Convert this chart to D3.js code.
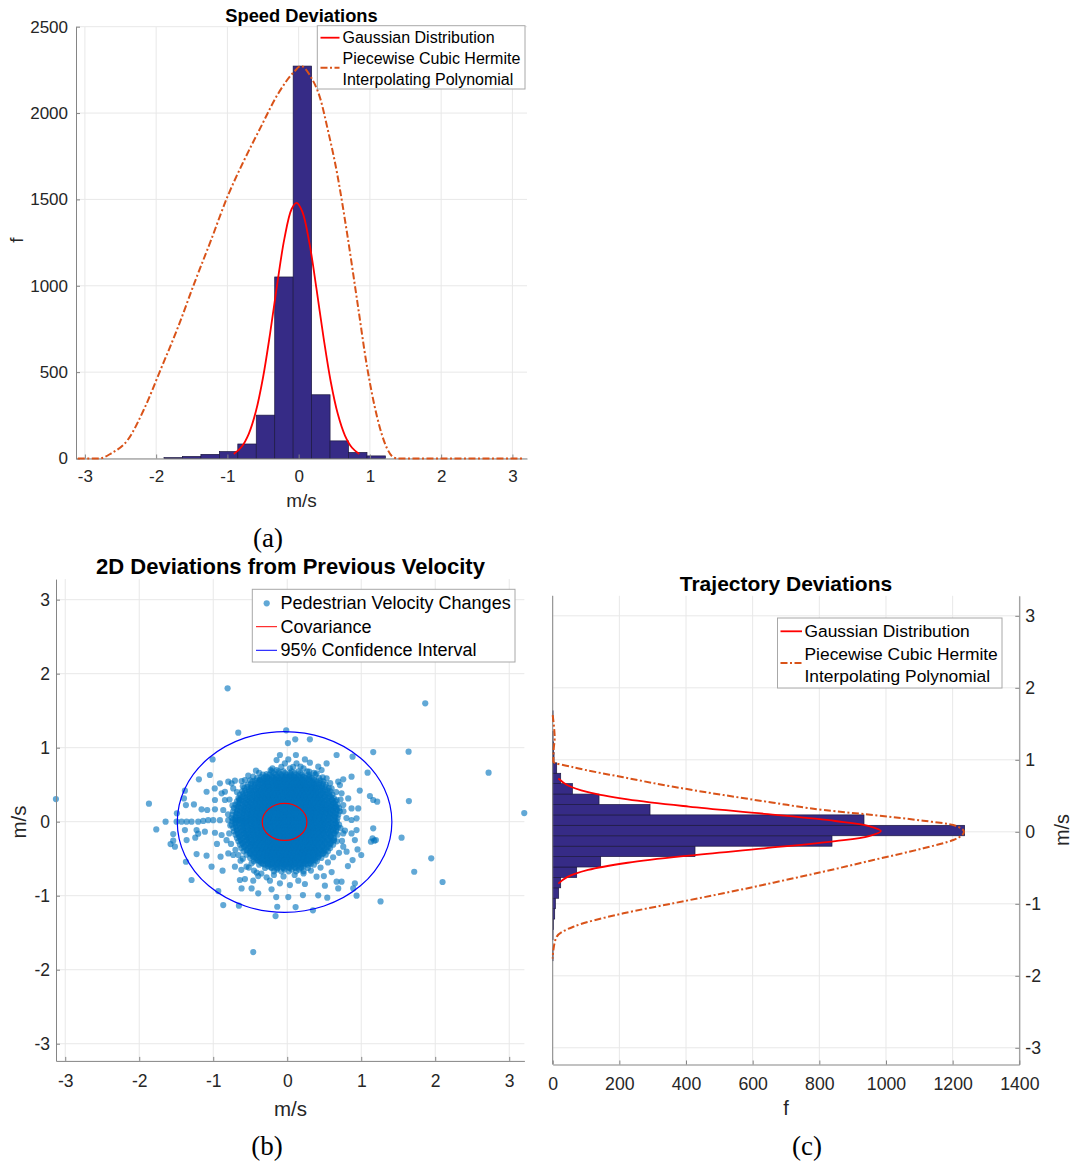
<!DOCTYPE html>
<html>
<head>
<meta charset="utf-8">
<script src="https://cdn.jsdelivr.net/npm/d3@7"></script>
<style>
  body { margin: 0; background: #fff; }
  svg { display: block; }
</style>
</head>
<body>
<svg id="fig" width="1072" height="1162"></svg>
<script>
// ---------------- data: speed deviation histogram ----------------
const speedEdges = [-1.890, -1.631, -1.372, -1.113, -0.854, -0.595, -0.336, -0.077, 0.182, 0.441, 0.700, 0.959, 1.218];
const speedCounts = [5, 12, 24, 40, 84, 251, 1051, 2272, 369, 102, 35, 15];
const speedGaussX = [-0.91, -0.8, -0.7, -0.6, -0.5, -0.4, -0.3, -0.2, -0.1, -0.03, 0.05, 0.15, 0.25, 0.35, 0.45, 0.55, 0.65, 0.75, 0.85];
const speedGaussF = [26, 68, 143, 273, 469, 726, 1013, 1273, 1443, 1480, 1431, 1250, 984, 698, 446, 257, 133, 62, 26];
const speedPchipX = [-3.10, -2.80, -2.63, -2.40, -2.165, -1.93, -1.70, -1.465, -1.23, -1.0, -0.765, -0.53, -0.30, -0.066, 0.03, 0.17, 0.31, 0.40, 0.54, 0.68, 0.82, 0.96, 1.10, 1.24, 1.33, 1.40, 3.15];
const speedPchipF = [0, 0, 30, 107, 290, 522, 753, 1014, 1264, 1515, 1727, 1920, 2104, 2238, 2272, 2210, 2075, 1920, 1650, 1303, 917, 531, 242, 59, 7, 0, 0];
const speedXTicks = [-3, -2, -1, 0, 1, 2, 3];
const speedYTicks = [0, 500, 1000, 1500, 2000, 2500];

// ---------------- data: trajectory deviation histogram (horizontal) ----------------
const trajEdges = [-1.791, -1.646, -1.501, -1.357, -1.212, -1.068, -0.923, -0.778, -0.634, -0.489, -0.344, -0.200, -0.055,
                   0.090, 0.235, 0.379, 0.524, 0.669, 0.813, 0.958, 1.103, 1.247, 1.392, 1.537, 1.681, 1.826];
const trajCounts = [1, 0, 1, 2, 6, 8, 18, 24, 72, 144, 427, 838, 1236, 934, 292, 139, 59, 24, 12, 4, 3, 1, 0, 1, 0];
const trajGaussY = [0.74, 0.65, 0.55, 0.45, 0.35, 0.25, 0.15, 0.08, 0.01, -0.06, -0.13, -0.23, -0.33, -0.43, -0.53, -0.63, -0.72];
const trajGaussF = [17, 43, 106, 225, 408, 635, 848, 949, 985, 949, 848, 635, 408, 225, 106, 43, 17];
const trajPchipY = [1.62, 1.45, 1.30, 1.15, 0.974, 0.896, 0.757, 0.626, 0.511, 0.404, 0.303, 0.233, 0.154, 0.094, 0.0,
                    -0.114, -0.229, -0.392, -0.554, -0.707, -0.854, -0.993, -1.132, -1.318, -1.457, -1.642, -1.76];
const trajPchipF = [0, 4, 6, 3, 2, 62, 212, 362, 512, 662, 812, 962, 1112, 1202, 1234,
                    1202, 1112, 962, 812, 662, 512, 362, 212, 62, 12, 2, 0];
const trajFTicks = [0, 200, 400, 600, 800, 1000, 1200, 1400];
const trajYTicks = [-3, -2, -1, 0, 1, 2, 3];

// ---------------- data: 2D velocity changes ----------------
const velocityTicks = [-3, -2, -1, 0, 1, 2, 3];
// scattered samples around the dense centre
const velocityPoints = [
  [-0.662,1.203],[-1.009,0.842],[-1.045,0.631],[-1.194,0.572],[-1.383,0.419],[-1.396,0.315],
  [-1.369,0.225],[-1.261,0.234],[-1.158,0.167],[-1.081,0.158],[-0.977,0.167],[-0.865,0.158],[-0.842,0.293],
  [-0.887,0.383],[-0.977,0.293],[-1.090,0.405],[-0.910,0.518],[-0.797,0.541],[-0.752,0.518],[-0.707,0.554],
  [-0.617,0.550],[-0.572,0.563],[-0.730,0.450],[-0.842,0.405],
  [-1.495,0],[-1.428,0],[-1.360,0],[-1.293,0],[-1.203,0],[-1.135,0.01],[-1.068,0.02],[-1.0,0.02],
  [-0.910,0.02],[-0.797,0.02],[-0.730,0.032],[-0.662,0.023],[-0.6,0.01],[-0.55,0.0],
  [-1.383,-0.113],[-1.225,-0.113],[-1.113,-0.135],[-0.977,-0.149],[-0.887,-0.180],[-0.784,-0.158],
  [-1.541,-0.257],[-1.518,-0.338],[-1.369,-0.541],[-1.225,-0.437],[-1.090,-0.459],[-1.023,-0.608],
  [-0.874,-0.662],[-0.901,-0.473],[-0.797,-0.428],[-0.730,-0.450],[-0.631,-0.527],[-0.707,-0.608],
  [-0.550,-0.608],[-0.482,-0.563],[-0.414,-0.689],[-0.640,-0.788],[-0.572,-0.775],[-0.459,-0.797],
  [-0.392,-0.734],[-0.279,-0.752],[-0.234,-0.797],
  [-1.293,-0.788],[-0.932,-0.937],[-0.865,-1.126],[-0.617,-0.901],[-0.482,-0.901],[-0.392,-0.968],
  [-0.212,-0.914],[-0.099,-0.833],[0.036,-0.856],[0.149,-0.797],[0.239,-0.842],[0.396,-0.743],
  [0.495,-0.734],[0.509,-0.865],[0.667,-0.811],[0.734,-0.811],[0.689,-0.901],[0.892,-0.901],[0.914,-0.833],
  [0.757,-0.338],[0.802,-0.405],[0.883,-0.518],[0.950,-0.374],[0.914,-0.248],[0.869,-0.158],[0.937,-0.113],
  [0.757,-0.158],[0.869,0.023],[0.937,0.045],[0.959,0.180],[0.869,0.180],[0.757,0.225],[0.667,0.293],
  [0.734,0.383],[0.824,0.315],[0.712,0.495],[0.757,0.572],[0.869,0.608],[0.599,0.450],[0.689,0.541],
  [0.532,0.788],[0.464,0.698],[0.396,0.653],[0.667,0.901],[0.883,0.878],[1.086,0.662],[1.162,0.293],
  [1.117,0.347],[1.162,-0.090],[1.153,-0.225],[1.131,-0.270],[1.176,-0.257],[0.937,-1.000],
  [-0.099,0.901],[0.014,0.842],[0.117,0.901],[0.239,0.842],[0.306,0.797],[0.126,0.788],[-0.032,0.788],
  [-0.144,0.833],[-0.225,0.698],[-0.279,0.644],[-0.423,0.689],[-0.459,0.608],[-0.527,0.622],[-0.369,0.563],
  [-0.302,0.527],[-0.144,0.698],[0.036,0.721],[0.180,0.743],[0.297,0.676],[0.419,0.743],[0.532,0.586],
  [-3.126,0.306],[3.203,0.117],[-0.806,1.802],[1.865,1.599],[1.162,0.941],[1.640,0.946],[2.721,0.662],
  [-1.869,0.243],[1.216,0.270],[1.644,0.279],[-1.644,0.0],[-1.770,-0.104],[-1.577,-0.302],[-1.541,-0.167],
  [-1.491,0.113],[1.545,-0.216],[1.198,-0.248],[1.946,-0.495],[1.716,-0.676],[2.099,-0.815],[1.261,-1.077],
  [-0.653,-1.135],[-0.158,-1.275],[-0.135,-1.149],[0.113,-1.153],[0.347,-1.198],[-0.459,-1.761],
  [0.541,-1.027],[0.419,-0.995],[0.212,-0.991],[0.014,-1.018],[-0.149,-1.018],[-0.014,1.234],[0.009,1.063],
  [0.108,1.113],[0.306,1.113],[-1.36,-0.248],[-1.243,-0.216],[-1.203,-0.162],
  [-0.78,0.3],[-0.74,0.22],[-0.8,0.1],[-0.77,-0.05],[-0.82,-0.25],[-0.76,-0.3],[-0.7,-0.38],[-0.66,-0.45],
  [-0.6,-0.5],[-0.52,-0.62],[-0.45,-0.66],[-0.35,-0.7],[-0.18,-0.72],[-0.05,-0.74],[0.1,-0.72],[0.22,-0.7],
  [0.32,-0.66],[0.45,-0.62],[0.55,-0.55],[0.62,-0.48],[0.7,-0.42],[0.74,-0.26],[0.78,-0.12],[0.8,0.05],
  [0.76,0.14],[0.72,0.3],[0.66,0.4],[0.58,0.52],[0.48,0.6],[0.36,0.66],[0.22,0.72],[0.08,0.74],
  [-0.08,0.74],[-0.2,0.72],[-0.38,0.66],[-0.5,0.56],[-0.6,0.48],[-0.68,0.4],[-0.65,0.3],[-0.62,-0.65],
  [0.6,-0.68],[0.82,-0.6],[-0.95,-0.3],[-0.98,0.45],[0.98,0.42],[1.0,-0.45]
];
// dense centre, one row per y level: [y, x1, x2, ...]
const velocityCore = [
  [0.68, -0.21, -0.12, -0.05, 0.06, 0.15, 0.27],
  [0.635, -0.33, -0.24, -0.16, -0.08, -0.01, 0.05, 0.12, 0.2, 0.29, 0.38],
  [0.59, -0.41, -0.32, -0.25, -0.18, -0.12, -0.06, 0.0, 0.06, 0.12, 0.18, 0.25, 0.33, 0.43],
  [0.545, -0.47, -0.38, -0.3, -0.24, -0.18, -0.13, -0.07, -0.02, 0.04, 0.09, 0.15, 0.2, 0.26, 0.33, 0.4, 0.49],
  [0.5, -0.53, -0.44, -0.36, -0.29, -0.23, -0.17, -0.12, -0.06, -0.01, 0.04, 0.09, 0.14, 0.19, 0.24, 0.3, 0.36, 0.43, 0.52],
  [0.455, -0.58, -0.49, -0.41, -0.34, -0.28, -0.22, -0.16, -0.11, -0.06, -0.01, 0.04, 0.08, 0.13, 0.18, 0.23, 0.28, 0.34, 0.4, 0.47, 0.56],
  [0.41, -0.61, -0.52, -0.45, -0.38, -0.32, -0.26, -0.2, -0.15, -0.1, -0.05, 0.0, 0.05, 0.1, 0.15, 0.2, 0.25, 0.3, 0.36, 0.42, 0.49, 0.58],
  [0.365, -0.64, -0.55, -0.47, -0.41, -0.35, -0.29, -0.23, -0.18, -0.13, -0.08, -0.03, 0.02, 0.07, 0.12, 0.17, 0.22, 0.27, 0.33, 0.39, 0.45, 0.52, 0.61],
  [0.32, -0.66, -0.57, -0.5, -0.43, -0.37, -0.31, -0.26, -0.21, -0.16, -0.11, -0.06, -0.01, 0.04, 0.09, 0.14, 0.19, 0.24, 0.29, 0.35, 0.41, 0.47, 0.55, 0.63],
  [0.275, -0.68, -0.6, -0.52, -0.45, -0.39, -0.33, -0.28, -0.23, -0.18, -0.13, -0.08, -0.03, 0.02, 0.07, 0.12, 0.17, 0.22, 0.27, 0.32, 0.38, 0.44, 0.5, 0.57, 0.65],
  [0.23, -0.7, -0.61, -0.54, -0.47, -0.41, -0.35, -0.3, -0.25, -0.2, -0.15, -0.1, -0.05, 0.0, 0.05, 0.1, 0.15, 0.2, 0.25, 0.3, 0.35, 0.41, 0.47, 0.53, 0.6, 0.68],
  [0.185, -0.72, -0.63, -0.56, -0.49, -0.43, -0.37, -0.32, -0.27, -0.22, -0.17, -0.12, -0.07, -0.02, 0.03, 0.08, 0.13, 0.18, 0.23, 0.28, 0.33, 0.38, 0.44, 0.5, 0.56, 0.63, 0.7],
  [0.14, -0.73, -0.64, -0.57, -0.5, -0.44, -0.38, -0.33, -0.28, -0.23, -0.18, -0.13, -0.08, -0.03, 0.02, 0.07, 0.12, 0.17, 0.22, 0.27, 0.32, 0.37, 0.43, 0.49, 0.55, 0.62, 0.71],
  [0.095, -0.74, -0.65, -0.58, -0.51, -0.45, -0.39, -0.34, -0.29, -0.24, -0.19, -0.14, -0.09, -0.04, 0.01, 0.06, 0.11, 0.16, 0.21, 0.26, 0.31, 0.36, 0.42, 0.48, 0.54, 0.61, 0.69],
  [0.05, -0.75, -0.66, -0.59, -0.52, -0.46, -0.4, -0.35, -0.3, -0.25, -0.2, -0.15, -0.1, -0.05, 0.0, 0.05, 0.1, 0.15, 0.2, 0.25, 0.3, 0.35, 0.41, 0.47, 0.53, 0.6, 0.68],
  [0.005, -0.74, -0.67, -0.6, -0.53, -0.47, -0.41, -0.36, -0.31, -0.26, -0.21, -0.16, -0.11, -0.06, -0.01, 0.04, 0.09, 0.14, 0.19, 0.24, 0.29, 0.34, 0.4, 0.46, 0.52, 0.59, 0.67],
  [-0.04, -0.75, -0.65, -0.58, -0.51, -0.45, -0.39, -0.34, -0.29, -0.24, -0.19, -0.14, -0.09, -0.04, 0.01, 0.06, 0.11, 0.16, 0.21, 0.26, 0.31, 0.37, 0.43, 0.49, 0.55, 0.62, 0.7],
  [-0.085, -0.73, -0.64, -0.57, -0.5, -0.44, -0.38, -0.33, -0.28, -0.23, -0.18, -0.13, -0.08, -0.03, 0.02, 0.07, 0.12, 0.17, 0.22, 0.27, 0.32, 0.38, 0.44, 0.5, 0.57, 0.64, 0.72],
  [-0.13, -0.72, -0.63, -0.56, -0.49, -0.43, -0.37, -0.32, -0.27, -0.22, -0.17, -0.12, -0.07, -0.02, 0.03, 0.08, 0.13, 0.18, 0.23, 0.28, 0.33, 0.39, 0.45, 0.51, 0.58, 0.66],
  [-0.175, -0.7, -0.62, -0.55, -0.48, -0.42, -0.36, -0.31, -0.26, -0.21, -0.16, -0.11, -0.06, -0.01, 0.04, 0.09, 0.14, 0.19, 0.24, 0.29, 0.34, 0.4, 0.46, 0.53, 0.6, 0.68],
  [-0.22, -0.68, -0.6, -0.53, -0.46, -0.4, -0.35, -0.3, -0.25, -0.2, -0.15, -0.1, -0.05, 0.0, 0.05, 0.1, 0.15, 0.2, 0.25, 0.3, 0.36, 0.42, 0.48, 0.55, 0.63],
  [-0.265, -0.66, -0.58, -0.51, -0.45, -0.39, -0.33, -0.28, -0.23, -0.18, -0.13, -0.08, -0.03, 0.02, 0.07, 0.12, 0.17, 0.22, 0.27, 0.32, 0.38, 0.44, 0.51, 0.59, 0.67],
  [-0.31, -0.64, -0.56, -0.49, -0.43, -0.37, -0.31, -0.26, -0.21, -0.16, -0.11, -0.06, -0.01, 0.04, 0.09, 0.14, 0.19, 0.24, 0.29, 0.35, 0.41, 0.47, 0.54, 0.62],
  [-0.355, -0.62, -0.53, -0.46, -0.4, -0.34, -0.29, -0.24, -0.19, -0.14, -0.09, -0.04, 0.01, 0.06, 0.11, 0.16, 0.21, 0.26, 0.31, 0.37, 0.43, 0.5, 0.58],
  [-0.4, -0.59, -0.5, -0.43, -0.37, -0.31, -0.26, -0.21, -0.16, -0.11, -0.06, -0.01, 0.04, 0.09, 0.14, 0.19, 0.24, 0.29, 0.34, 0.4, 0.47, 0.55],
  [-0.445, -0.55, -0.47, -0.4, -0.34, -0.28, -0.23, -0.18, -0.13, -0.08, -0.03, 0.02, 0.07, 0.12, 0.17, 0.22, 0.27, 0.32, 0.38, 0.44, 0.52],
  [-0.49, -0.5, -0.42, -0.35, -0.29, -0.24, -0.19, -0.14, -0.09, -0.04, 0.01, 0.06, 0.11, 0.16, 0.21, 0.26, 0.32, 0.38, 0.46],
  [-0.535, -0.45, -0.37, -0.3, -0.24, -0.18, -0.12, -0.07, -0.02, 0.03, 0.08, 0.13, 0.19, 0.25, 0.32, 0.4],
  [-0.58, -0.38, -0.3, -0.23, -0.16, -0.1, -0.04, 0.02, 0.08, 0.14, 0.21, 0.28, 0.36],
  [-0.625, -0.3, -0.21, -0.13, -0.05, 0.03, 0.11, 0.19, 0.28],
  [-0.67, -0.18, -0.08, 0.02, 0.12, 0.22]
];
// second, interleaved layer of the dense centre
const velocityCoreInner = [
  [0.6575, -0.19, -0.11, -0.03, 0.04, 0.1, 0.18],
  [0.6125, -0.29, -0.21, -0.14, -0.07, -0.02, 0.03, 0.09, 0.15, 0.22, 0.3],
  [0.5675, -0.37, -0.29, -0.22, -0.16, -0.1, -0.04, 0.03, 0.09, 0.15, 0.21, 0.28, 0.36],
  [0.5225, -0.43, -0.35, -0.28, -0.21, -0.15, -0.1, -0.05, 0.0, 0.06, 0.12, 0.17, 0.23, 0.29, 0.36, 0.44],
  [0.4775, -0.48, -0.4, -0.33, -0.26, -0.2, -0.14, -0.09, -0.04, 0.02, 0.07, 0.12, 0.17, 0.22, 0.27, 0.33, 0.39, 0.47],
  [0.4325, -0.52, -0.44, -0.37, -0.31, -0.25, -0.19, -0.14, -0.08, -0.03, 0.02, 0.07, 0.11, 0.16, 0.21, 0.26, 0.31, 0.37, 0.44, 0.51],
  [0.3875, -0.56, -0.48, -0.41, -0.35, -0.29, -0.23, -0.17, -0.12, -0.07, -0.02, 0.03, 0.08, 0.13, 0.18, 0.23, 0.28, 0.34, 0.4, 0.47, 0.54],
  [0.3425, -0.59, -0.51, -0.44, -0.38, -0.32, -0.26, -0.21, -0.15, -0.1, -0.05, 0.0, 0.05, 0.1, 0.15, 0.2, 0.25, 0.31, 0.37, 0.43, 0.5, 0.57],
  [0.2975, -0.62, -0.54, -0.47, -0.41, -0.35, -0.29, -0.23, -0.18, -0.13, -0.08, -0.03, 0.02, 0.07, 0.12, 0.17, 0.22, 0.27, 0.33, 0.39, 0.45, 0.52, 0.6],
  [0.2525, -0.64, -0.56, -0.49, -0.43, -0.37, -0.31, -0.25, -0.2, -0.15, -0.1, -0.05, 0.0, 0.05, 0.1, 0.15, 0.2, 0.25, 0.3, 0.36, 0.42, 0.48, 0.55, 0.62],
  [0.2075, -0.66, -0.58, -0.51, -0.44, -0.38, -0.32, -0.27, -0.22, -0.17, -0.12, -0.07, -0.02, 0.03, 0.08, 0.13, 0.18, 0.23, 0.28, 0.33, 0.39, 0.45, 0.51, 0.58, 0.65],
  [0.1625, -0.67, -0.59, -0.52, -0.45, -0.39, -0.34, -0.29, -0.24, -0.19, -0.14, -0.09, -0.04, 0.01, 0.06, 0.11, 0.16, 0.21, 0.26, 0.31, 0.36, 0.42, 0.48, 0.54, 0.6, 0.67],
  [0.1175, -0.68, -0.6, -0.53, -0.47, -0.41, -0.36, -0.31, -0.26, -0.21, -0.16, -0.11, -0.06, -0.01, 0.04, 0.09, 0.14, 0.19, 0.24, 0.29, 0.34, 0.4, 0.46, 0.52, 0.58, 0.65],
  [0.0725, -0.69, -0.61, -0.54, -0.48, -0.42, -0.37, -0.32, -0.27, -0.22, -0.17, -0.12, -0.07, -0.02, 0.03, 0.08, 0.13, 0.18, 0.23, 0.28, 0.33, 0.38, 0.44, 0.5, 0.57, 0.64],
  [0.0275, -0.7, -0.62, -0.55, -0.49, -0.43, -0.38, -0.33, -0.28, -0.23, -0.18, -0.13, -0.08, -0.03, 0.02, 0.07, 0.12, 0.17, 0.22, 0.27, 0.32, 0.37, 0.43, 0.49, 0.56, 0.64],
  [-0.0175, -0.7, -0.62, -0.56, -0.5, -0.44, -0.38, -0.33, -0.28, -0.23, -0.18, -0.13, -0.08, -0.03, 0.02, 0.07, 0.12, 0.17, 0.22, 0.27, 0.32, 0.38, 0.44, 0.5, 0.57, 0.65],
  [-0.0625, -0.69, -0.61, -0.55, -0.49, -0.43, -0.37, -0.32, -0.27, -0.22, -0.17, -0.12, -0.07, -0.02, 0.03, 0.08, 0.13, 0.18, 0.23, 0.28, 0.33, 0.39, 0.45, 0.51, 0.58, 0.66],
  [-0.1075, -0.68, -0.6, -0.54, -0.48, -0.42, -0.36, -0.31, -0.26, -0.21, -0.16, -0.11, -0.06, -0.01, 0.04, 0.09, 0.14, 0.19, 0.24, 0.29, 0.34, 0.4, 0.46, 0.52, 0.59, 0.66],
  [-0.1525, -0.67, -0.59, -0.53, -0.47, -0.41, -0.35, -0.3, -0.25, -0.2, -0.15, -0.1, -0.05, 0.0, 0.05, 0.1, 0.15, 0.2, 0.25, 0.3, 0.36, 0.42, 0.48, 0.55, 0.63],
  [-0.1975, -0.65, -0.57, -0.51, -0.45, -0.39, -0.34, -0.29, -0.24, -0.19, -0.14, -0.09, -0.04, 0.01, 0.06, 0.11, 0.16, 0.21, 0.26, 0.31, 0.37, 0.43, 0.5, 0.58],
  [-0.2425, -0.63, -0.55, -0.49, -0.43, -0.37, -0.31, -0.26, -0.21, -0.16, -0.11, -0.06, -0.01, 0.04, 0.09, 0.14, 0.19, 0.24, 0.29, 0.35, 0.41, 0.48, 0.56, 0.63],
  [-0.2875, -0.61, -0.53, -0.47, -0.41, -0.35, -0.29, -0.24, -0.19, -0.14, -0.09, -0.04, 0.01, 0.06, 0.11, 0.16, 0.21, 0.26, 0.32, 0.38, 0.44, 0.51, 0.59],
  [-0.3325, -0.58, -0.5, -0.44, -0.38, -0.32, -0.27, -0.22, -0.17, -0.12, -0.07, -0.02, 0.03, 0.08, 0.13, 0.18, 0.23, 0.29, 0.35, 0.41, 0.48, 0.56],
  [-0.3775, -0.55, -0.47, -0.41, -0.35, -0.29, -0.24, -0.19, -0.14, -0.09, -0.04, 0.01, 0.06, 0.11, 0.16, 0.21, 0.26, 0.32, 0.38, 0.45, 0.52],
  [-0.4225, -0.51, -0.44, -0.37, -0.31, -0.26, -0.21, -0.16, -0.11, -0.06, -0.01, 0.04, 0.09, 0.14, 0.19, 0.24, 0.3, 0.36, 0.42, 0.49],
  [-0.4675, -0.47, -0.4, -0.33, -0.27, -0.22, -0.17, -0.12, -0.07, -0.02, 0.03, 0.08, 0.13, 0.18, 0.23, 0.29, 0.35, 0.42],
  [-0.5125, -0.42, -0.35, -0.28, -0.22, -0.16, -0.11, -0.06, -0.01, 0.04, 0.09, 0.14, 0.2, 0.26, 0.33, 0.38],
  [-0.5575, -0.35, -0.27, -0.2, -0.14, -0.08, -0.02, 0.04, 0.1, 0.16, 0.23, 0.3],
  [-0.6025, -0.26, -0.18, -0.1, -0.02, 0.06, 0.14, 0.22],
  [-0.6475, -0.14, -0.04, 0.06, 0.16]
];
// third layer, filling the densest part of the centre
const velocityCoreDense = [
  [0.601, -0.35, -0.27, -0.2, -0.14, -0.08, -0.02, 0.04, 0.1, 0.16, 0.22, 0.3],
  [0.556, -0.43, -0.34, -0.27, -0.21, -0.15, -0.1, -0.04, 0.01, 0.07, 0.12, 0.18, 0.23, 0.3, 0.37, 0.45],
  [0.511, -0.49, -0.4, -0.32, -0.26, -0.2, -0.14, -0.09, -0.03, 0.02, 0.07, 0.12, 0.17, 0.22, 0.27, 0.33, 0.4, 0.48],
  [0.466, -0.54, -0.45, -0.38, -0.31, -0.25, -0.19, -0.13, -0.08, -0.03, 0.02, 0.06, 0.11, 0.16, 0.21, 0.26, 0.31, 0.37, 0.44, 0.52],
  [0.421, -0.57, -0.49, -0.42, -0.35, -0.29, -0.23, -0.17, -0.12, -0.07, -0.02, 0.03, 0.08, 0.13, 0.18, 0.23, 0.28, 0.33, 0.39, 0.46, 0.54],
  [0.376, -0.6, -0.51, -0.44, -0.38, -0.32, -0.26, -0.2, -0.15, -0.1, -0.05, 0.0, 0.05, 0.1, 0.15, 0.2, 0.25, 0.3, 0.36, 0.42, 0.49, 0.57],
  [0.331, -0.62, -0.54, -0.47, -0.4, -0.34, -0.28, -0.23, -0.18, -0.13, -0.08, -0.03, 0.02, 0.07, 0.12, 0.17, 0.22, 0.27, 0.32, 0.38, 0.44, 0.51, 0.59],
  [0.286, -0.64, -0.56, -0.49, -0.42, -0.36, -0.3, -0.25, -0.2, -0.15, -0.1, -0.05, 0.0, 0.05, 0.1, 0.15, 0.2, 0.25, 0.3, 0.35, 0.41, 0.47, 0.54, 0.61],
  [0.241, -0.66, -0.57, -0.5, -0.44, -0.38, -0.32, -0.27, -0.22, -0.17, -0.12, -0.07, -0.02, 0.03, 0.08, 0.13, 0.18, 0.23, 0.28, 0.33, 0.38, 0.44, 0.5, 0.57, 0.64],
  [0.196, -0.67, -0.59, -0.52, -0.46, -0.4, -0.34, -0.29, -0.24, -0.19, -0.14, -0.09, -0.04, 0.01, 0.06, 0.11, 0.16, 0.21, 0.26, 0.31, 0.36, 0.41, 0.47, 0.53, 0.6, 0.66],
  [0.151, -0.68, -0.6, -0.53, -0.47, -0.41, -0.35, -0.3, -0.25, -0.2, -0.15, -0.1, -0.05, 0.0, 0.05, 0.1, 0.15, 0.2, 0.25, 0.3, 0.35, 0.4, 0.46, 0.52, 0.59, 0.67],
  [0.106, -0.69, -0.61, -0.54, -0.48, -0.42, -0.36, -0.31, -0.26, -0.21, -0.16, -0.11, -0.06, -0.01, 0.04, 0.09, 0.14, 0.19, 0.24, 0.29, 0.34, 0.39, 0.45, 0.51, 0.58, 0.66],
  [0.061, -0.7, -0.62, -0.55, -0.49, -0.43, -0.37, -0.32, -0.27, -0.22, -0.17, -0.12, -0.07, -0.02, 0.03, 0.08, 0.13, 0.18, 0.23, 0.28, 0.33, 0.38, 0.44, 0.5, 0.57, 0.65],
  [0.016, -0.7, -0.63, -0.56, -0.5, -0.44, -0.38, -0.33, -0.28, -0.23, -0.18, -0.13, -0.08, -0.03, 0.02, 0.07, 0.12, 0.17, 0.22, 0.27, 0.32, 0.37, 0.43, 0.49, 0.56, 0.64],
  [-0.029, -0.7, -0.62, -0.55, -0.48, -0.42, -0.36, -0.31, -0.26, -0.21, -0.16, -0.11, -0.06, -0.01, 0.04, 0.09, 0.14, 0.19, 0.24, 0.29, 0.34, 0.4, 0.46, 0.52, 0.59, 0.66],
  [-0.074, -0.69, -0.61, -0.54, -0.47, -0.41, -0.35, -0.3, -0.25, -0.2, -0.15, -0.1, -0.05, 0.0, 0.05, 0.1, 0.15, 0.2, 0.25, 0.3, 0.35, 0.41, 0.47, 0.54, 0.61, 0.68],
  [-0.119, -0.68, -0.6, -0.53, -0.46, -0.4, -0.34, -0.29, -0.24, -0.19, -0.14, -0.09, -0.04, 0.01, 0.06, 0.11, 0.16, 0.21, 0.26, 0.31, 0.36, 0.42, 0.48, 0.55, 0.62],
  [-0.164, -0.66, -0.58, -0.51, -0.45, -0.39, -0.33, -0.28, -0.23, -0.18, -0.13, -0.08, -0.03, 0.02, 0.07, 0.12, 0.17, 0.22, 0.27, 0.32, 0.37, 0.43, 0.5, 0.57, 0.64],
  [-0.209, -0.64, -0.56, -0.49, -0.43, -0.37, -0.32, -0.27, -0.22, -0.17, -0.12, -0.07, -0.02, 0.03, 0.08, 0.13, 0.18, 0.23, 0.28, 0.33, 0.39, 0.45, 0.52, 0.59],
  [-0.254, -0.62, -0.54, -0.48, -0.42, -0.36, -0.3, -0.25, -0.2, -0.15, -0.1, -0.05, 0.0, 0.05, 0.1, 0.15, 0.2, 0.25, 0.3, 0.35, 0.41, 0.48, 0.55, 0.63],
  [-0.299, -0.6, -0.52, -0.46, -0.4, -0.34, -0.28, -0.23, -0.18, -0.13, -0.08, -0.03, 0.02, 0.07, 0.12, 0.17, 0.22, 0.27, 0.32, 0.38, 0.44, 0.51, 0.58],
  [-0.344, -0.58, -0.5, -0.43, -0.37, -0.31, -0.26, -0.21, -0.16, -0.11, -0.06, -0.01, 0.04, 0.09, 0.14, 0.19, 0.24, 0.29, 0.34, 0.4, 0.47, 0.54],
  [-0.389, -0.54, -0.46, -0.4, -0.34, -0.28, -0.23, -0.18, -0.13, -0.08, -0.03, 0.02, 0.07, 0.12, 0.17, 0.22, 0.27, 0.32, 0.37, 0.43, 0.5],
  [-0.434, -0.5, -0.43, -0.37, -0.31, -0.25, -0.2, -0.15, -0.1, -0.05, 0.0, 0.05, 0.1, 0.15, 0.2, 0.25, 0.3, 0.35, 0.41, 0.48],
  [-0.479, -0.45, -0.38, -0.32, -0.26, -0.21, -0.16, -0.11, -0.06, -0.01, 0.04, 0.09, 0.14, 0.19, 0.24, 0.29, 0.35, 0.42],
  [-0.524, -0.4, -0.33, -0.27, -0.21, -0.15, -0.09, -0.04, 0.01, 0.06, 0.11, 0.16, 0.22, 0.28, 0.35],
  [-0.569, -0.33, -0.26, -0.19, -0.13, -0.07, -0.01, 0.05, 0.11, 0.18, 0.25, 0.32],
  [-0.614, -0.22, -0.14, -0.06, 0.02, 0.1, 0.18]
];
const ellipseCenter = [-0.036, -0.003];
const covarianceRadii = [0.302, 0.25];
const confidenceRadii = [1.45, 1.221];

// ---------------- styles ----------------
const FONT = '"Liberation Sans", Arial, Helvetica, sans-serif';
const SERIF = '"Liberation Serif", "DejaVu Serif", serif';
const INK = '#262626';
const AXIS = '#858585';
const GRID = '#e8e8e8';
const BAR = '#362b86';
const BAR_EDGE = '#1c1840';
const RED = '#ff0000';
const ORANGE = '#d95319';
const DASHDOT = '7,2.5,2,2.5';
const DOT_BLUE = '#0072bd';
const DOT_ALPHA = 0.62;

const svg = d3.select('#fig');

function styleAxis(sel, size) {
  sel.attr('font-family', null).attr('font-size', null);
  sel.select('.domain').attr('stroke', AXIS).attr('stroke-width', 1);
  sel.selectAll('.tick line').attr('stroke', AXIS).attr('stroke-width', 1);
  sel.selectAll('.tick text').attr('fill', INK).style('font-family', FONT).style('font-size', size + 'px');
}

function gridLines(g, x, y, xs, ys) {
  const [x0, x1] = x.range();
  const [y0, y1] = y.range();
  g.append('g').selectAll('line').data(xs).join('line')
    .attr('x1', d => x(d)).attr('x2', d => x(d)).attr('y1', y0).attr('y2', y1)
    .attr('stroke', GRID).attr('stroke-width', 1);
  g.append('g').selectAll('line').data(ys).join('line')
    .attr('x1', x0).attr('x2', x1).attr('y1', d => y(d)).attr('y2', d => y(d))
    .attr('stroke', GRID).attr('stroke-width', 1);
}

function label(g, txt, x, y, size, opts = {}) {
  const t = g.append('text').text(txt)
    .attr('x', x).attr('y', y)
    .attr('text-anchor', opts.anchor || 'middle')
    .attr('dominant-baseline', 'central')
    .style('font-family', opts.family || FONT)
    .style('font-size', size + 'px')
    .style('font-weight', opts.bold ? 'bold' : 'normal')
    .attr('fill', opts.fill || INK);
  if (opts.rotate) t.attr('transform', `rotate(${opts.rotate},${x},${y})`);
  return t;
}

function legendBox(g, x0, y0, x1, y1) {
  g.append('rect').attr('x', x0).attr('y', y0).attr('width', x1 - x0).attr('height', y1 - y0)
    .attr('fill', '#fff').attr('stroke', '#a8a8a8').attr('stroke-width', 1);
}

// ================= panel (a): Speed Deviations =================
{
  const x = d3.scaleLinear().domain([-3.125, 3.205]).range([76, 527]);
  const y = d3.scaleLinear().domain([0, 2500]).range([458.5, 26.7]);
  const g = svg.append('g');
  gridLines(g, x, y, speedXTicks, speedYTicks);

  g.append('g').selectAll('rect').data(speedCounts).join('rect')
    .attr('x', (d, i) => x(speedEdges[i]))
    .attr('width', (d, i) => x(speedEdges[i + 1]) - x(speedEdges[i]))
    .attr('y', d => y(d))
    .attr('height', d => y(0) - y(d))
    .attr('fill', BAR).attr('stroke', BAR_EDGE).attr('stroke-width', 0.7);

  g.append('g').attr('transform', `translate(0,${y(0)})`)
    .call(d3.axisBottom(x).tickValues(speedXTicks).tickSize(-4).tickSizeOuter(0).tickPadding(11).tickFormat(d => String(d)))
    .call(s => styleAxis(s, 17));
  g.append('g').attr('transform', `translate(${x.range()[0]},0)`)
    .call(d3.axisLeft(y).tickValues(speedYTicks).tickSize(-4).tickSizeOuter(0).tickPadding(8).tickFormat(d => String(d)))
    .call(s => styleAxis(s, 17));

  const gauss = d3.line().x(d => x(d[0])).y(d => y(d[1])).curve(d3.curveCatmullRom);
  g.append('path').datum(d3.zip(speedGaussX, speedGaussF)).attr('d', gauss)
    .attr('fill', 'none').attr('stroke', RED).attr('stroke-width', 1.8);
  const pchip = d3.line().x(d => x(d[0])).y(d => y(d[1])).curve(d3.curveMonotoneX);
  g.append('path').datum(d3.zip(speedPchipX, speedPchipF)).attr('d', pchip)
    .attr('fill', 'none').attr('stroke', ORANGE).attr('stroke-width', 2).attr('stroke-dasharray', DASHDOT);

  label(g, 'Speed Deviations', 301.5, 15, 18.3, { bold: true, fill: '#000' });
  label(g, 'm/s', 301.5, 500, 19);
  label(g, 'f', 16, 240, 19, { rotate: -90 });

  legendBox(g, 317.3, 25.7, 525, 89);
  g.append('line').attr('x1', 320.5).attr('x2', 339.5).attr('y1', 37.7).attr('y2', 37.7)
    .attr('stroke', RED).attr('stroke-width', 1.8);
  g.append('line').attr('x1', 320.5).attr('x2', 339.5).attr('y1', 67.7).attr('y2', 67.7)
    .attr('stroke', ORANGE).attr('stroke-width', 2).attr('stroke-dasharray', DASHDOT);
  label(g, 'Gaussian Distribution', 342.5, 37.7, 16, { anchor: 'start', fill: '#000' });
  label(g, 'Piecewise Cubic Hermite', 342.5, 58.3, 16, { anchor: 'start', fill: '#000' });
  label(g, 'Interpolating Polynomial', 342.5, 79, 16, { anchor: 'start', fill: '#000' });

  label(g, '(a)', 268, 538, 27, { family: SERIF, fill: '#000' });
}

// ================= panel (b): 2D Deviations =================
{
  const x = d3.scaleLinear().domain([-3.125, 3.205]).range([56, 524.4]);
  const y = d3.scaleLinear().domain([-3.232, 3.278]).range([1060.9, 579.1]);
  const g = svg.append('g');
  gridLines(g, x, y, velocityTicks, velocityTicks);

  const rows = velocityCore.concat(velocityCoreInner, velocityCoreDense);
  const pts = velocityPoints.concat(rows.flatMap(r => r.slice(1).map(v => [v, r[0]])));
  g.append('g').selectAll('circle').data(pts).join('circle')
    .attr('cx', d => x(d[0])).attr('cy', d => y(d[1])).attr('r', 3.1)
    .attr('fill', DOT_BLUE).attr('fill-opacity', DOT_ALPHA);

  const [cx, cy] = ellipseCenter;
  const ell = (r, color) => g.append('ellipse')
    .attr('cx', x(cx)).attr('cy', y(cy))
    .attr('rx', x(cx + r[0]) - x(cx)).attr('ry', y(cy) - y(cy + r[1]))
    .attr('fill', 'none').attr('stroke', color).attr('stroke-width', 1.2);
  ell(covarianceRadii, RED);
  ell(confidenceRadii, '#0000ff');

  g.append('g').attr('transform', `translate(0,${y.range()[0]})`)
    .call(d3.axisBottom(x).tickValues(velocityTicks).tickSize(-4).tickSizeOuter(0).tickPadding(13.5).tickFormat(d => String(d)))
    .call(s => styleAxis(s, 17.5));
  g.append('g').attr('transform', `translate(${x.range()[0]},0)`)
    .call(d3.axisLeft(y).tickValues(velocityTicks).tickSize(-4).tickSizeOuter(0).tickPadding(6).tickFormat(d => String(d)))
    .call(s => styleAxis(s, 17.5));

  label(g, '2D Deviations from Previous Velocity', 290.5, 566, 22, { bold: true, fill: '#000' });
  label(g, 'm/s', 290.5, 1108, 20.5);
  label(g, 'm/s', 18, 822, 20.5, { rotate: -90 });

  legendBox(g, 252.3, 589.3, 515, 662);
  g.append('circle').attr('cx', 266.7).attr('cy', 603.3).attr('r', 3.1)
    .attr('fill', DOT_BLUE).attr('fill-opacity', DOT_ALPHA);
  g.append('line').attr('x1', 256).attr('x2', 277).attr('y1', 626.7).attr('y2', 626.7)
    .attr('stroke', RED).attr('stroke-width', 1);
  g.append('line').attr('x1', 256).attr('x2', 277).attr('y1', 650.3).attr('y2', 650.3)
    .attr('stroke', '#0000ff').attr('stroke-width', 1);
  label(g, 'Pedestrian Velocity Changes', 280.5, 603.3, 18, { anchor: 'start', fill: '#000' });
  label(g, 'Covariance', 280.5, 626.7, 18, { anchor: 'start', fill: '#000' });
  label(g, '95% Confidence Interval', 280.5, 650.3, 18, { anchor: 'start', fill: '#000' });

  label(g, '(b)', 267, 1146, 27, { family: SERIF, fill: '#000' });
}

// ================= panel (c): Trajectory Deviations =================
{
  const x = d3.scaleLinear().domain([0, 1400]).range([552.7, 1019.3]);
  const y = d3.scaleLinear().domain([-3.232, 3.278]).range([1064.5, 595.8]);
  const g = svg.append('g');
  gridLines(g, x, y, trajFTicks, trajYTicks);

  g.append('g').selectAll('rect').data(trajCounts).join('rect')
    .attr('x', x(0))
    .attr('width', d => x(d) - x(0))
    .attr('y', (d, i) => y(trajEdges[i + 1]))
    .attr('height', (d, i) => y(trajEdges[i]) - y(trajEdges[i + 1]))
    .attr('fill', BAR).attr('stroke', BAR_EDGE).attr('stroke-width', 0.7);

  // left frame line
  g.append('line').attr('x1', x(0)).attr('x2', x(0)).attr('y1', y.range()[0]).attr('y2', y.range()[1])
    .attr('stroke', AXIS).attr('stroke-width', 1);

  g.append('g').attr('transform', `translate(0,${y.range()[0]})`)
    .call(d3.axisBottom(x).tickValues(trajFTicks).tickSize(-4).tickSizeOuter(0).tickPadding(13).tickFormat(d => String(d)))
    .call(s => styleAxis(s, 17.7));
  g.append('g').attr('transform', `translate(${x.range()[1]},0)`)
    .call(d3.axisRight(y).tickValues(trajYTicks).tickSize(-4).tickSizeOuter(0).tickPadding(6).tickFormat(d => String(d)))
    .call(s => styleAxis(s, 17.7));

  const gauss = d3.line().x(d => x(d[1])).y(d => y(d[0])).curve(d3.curveCatmullRom);
  g.append('path').datum(d3.zip(trajGaussY, trajGaussF)).attr('d', gauss)
    .attr('fill', 'none').attr('stroke', RED).attr('stroke-width', 1.8);
  const pchip = d3.line().x(d => x(d[1])).y(d => y(d[0])).curve(d3.curveMonotoneY);
  g.append('path').datum(d3.zip(trajPchipY, trajPchipF)).attr('d', pchip)
    .attr('fill', 'none').attr('stroke', ORANGE).attr('stroke-width', 2).attr('stroke-dasharray', DASHDOT);

  label(g, 'Trajectory Deviations', 786, 583, 21, { bold: true, fill: '#000' });
  label(g, 'f', 786, 1108, 20);
  label(g, 'm/s', 1061.5, 830, 20, { rotate: -90 });

  legendBox(g, 777.5, 618, 1002, 688);
  g.append('line').attr('x1', 780.5).attr('x2', 802).attr('y1', 631.3).attr('y2', 631.3)
    .attr('stroke', RED).attr('stroke-width', 1.8);
  g.append('line').attr('x1', 780.5).attr('x2', 802).attr('y1', 663).attr('y2', 663)
    .attr('stroke', ORANGE).attr('stroke-width', 2).attr('stroke-dasharray', DASHDOT);
  label(g, 'Gaussian Distribution', 804.5, 631.3, 17.4, { anchor: 'start', fill: '#000' });
  label(g, 'Piecewise Cubic Hermite', 804.5, 653.5, 17.4, { anchor: 'start', fill: '#000' });
  label(g, 'Interpolating Polynomial', 804.5, 675.7, 17.4, { anchor: 'start', fill: '#000' });

  label(g, '(c)', 807, 1146, 27, { family: SERIF, fill: '#000' });
}
</script>
</body>
</html>
